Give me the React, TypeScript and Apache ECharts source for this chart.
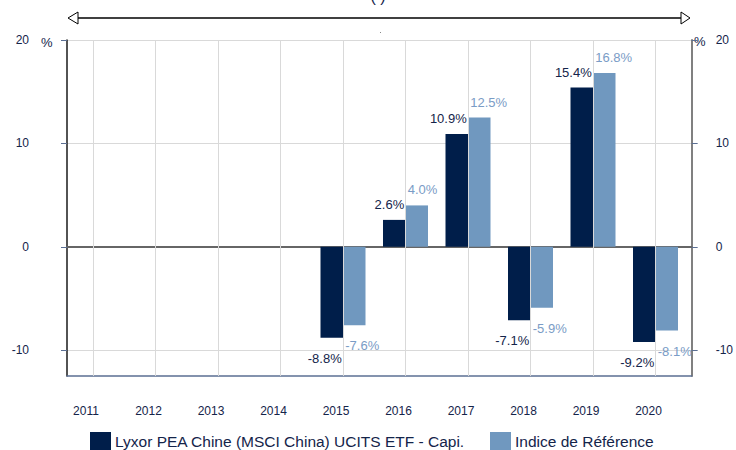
import React, { useEffect, useRef } from "react";
import * as echarts from "echarts";

const years = ["2011", "2012", "2013", "2014", "2015", "2016", "2017", "2018", "2019", "2020"];
const fundValues: (number | null)[] = [null, null, null, null, -8.8, 2.6, 10.9, -7.1, 15.4, -9.2];
const indexValues: (number | null)[] = [null, null, null, null, -7.6, 4.0, 12.5, -5.9, 16.8, -8.1];
const yTicks = [-10, 0, 10, 20];
const fundName = "Lyxor PEA Chine (MSCI China) UCITS ETF - Capi.";
const indexName = "Indice de Référence";

const DARK = "#001e4a";
const LIGHT = "#7098bf";
const NAVY = "#14244a";
const FONT = "'Liberation Sans', Arial, sans-serif";

function toItems(values: (number | null)[]) {
  return values.map((v) => {
    if (v === null) return "-";
    const pos = v >= 0;
    return {
      value: v,
      label: {
        position: pos ? "top" : "bottom",
        distance: pos ? 9 : 14,
      },
    };
  });
}

export default function App() {
  const ref = useRef<HTMLDivElement>(null);
  useEffect(() => {
    if (!ref.current) return;
    const chart = echarts.init(ref.current, null, { renderer: "svg" });
    const yMin = -12.5;
    const yMax = 20;
    chart.setOption({
      animation: false,
      textStyle: { fontFamily: FONT },
      grid: [
        { left: 61.75, right: 49.25, top: 40, bottom: 74 },
        { left: 67, right: 44, top: 40, bottom: 74 },
      ],
      legend: {
        data: [fundName, indexName],
        left: 90,
        top: 432,
        padding: 0,
        itemWidth: 21,
        itemHeight: 18,
        itemGap: 25,
        icon: "rect",
        textStyle: { fontSize: 15.5, color: NAVY, fontFamily: FONT, padding: [0, 0, 0, -1] },
      },
      xAxis: [
        {
          type: "category",
          gridIndex: 0,
          data: years,
          axisLine: { show: false },
          axisTick: { show: false },
          splitLine: { show: false },
          axisLabel: { fontSize: 12, color: NAVY, margin: 29, padding: [0, 14, 0, 0], fontFamily: FONT },
        },
        {
          type: "value",
          gridIndex: 1,
          min: 0,
          max: 1,
          position: "top",
          axisLine: { show: true, onZero: true, lineStyle: { color: "#666666", width: 2 } },
          axisTick: { show: false },
          axisLabel: { show: false },
          splitLine: { show: false },
        },
        {
          type: "value",
          gridIndex: 1,
          min: 0,
          max: 1,
          position: "bottom",
          axisLine: { show: true, onZero: false, lineStyle: { color: "#5b6f93", width: 1.5 } },
          axisTick: { show: false },
          axisLabel: { show: false },
          splitLine: { show: false },
        },
      ],
      yAxis: [
        { type: "value", gridIndex: 0, min: yMin, max: yMax, show: false },
        {
          type: "value",
          gridIndex: 1,
          position: "left",
          min: yMin,
          max: yMax,
          axisLine: { show: true, onZero: false, lineStyle: { color: "#1a1a1a", width: 1.5 } },
          axisTick: { show: true, customValues: yTicks, length: 6, lineStyle: { color: "#5b6f93" } },
          axisLabel: { customValues: yTicks, margin: 38, fontSize: 12, color: NAVY, fontFamily: FONT, padding: [5, 0, 0, 0] },
          splitLine: { show: true, lineStyle: { color: "#d9d9d9", width: 1 } },
        },
        {
          type: "value",
          gridIndex: 1,
          position: "right",
          min: yMin,
          max: yMax,
          axisLine: { show: true, onZero: false, lineStyle: { color: "#808080", width: 2 } },
          axisTick: { show: true, customValues: yTicks, length: 6, lineStyle: { color: "#5b6f93" } },
          axisLabel: { customValues: yTicks, margin: 24, fontSize: 12, color: NAVY, fontFamily: FONT, padding: [5, 0, 0, 0] },
          splitLine: { show: false },
        },
      ],
      series: [
        {
          type: "line",
          xAxisIndex: 0,
          yAxisIndex: 0,
          data: years.map(() => "-"),
          z: 1,
          silent: true,
          markLine: {
            silent: true,
            symbol: "none",
            label: { show: false },
            lineStyle: { color: "#d9d9d9", type: "solid", width: 1 },
            data: years.map((y) => ({ xAxis: y })),
          },
        },
        {
          name: fundName,
          type: "bar",
          xAxisIndex: 0,
          yAxisIndex: 0,
          z: 3,
          barWidth: 22.5,
          barGap: "0%",
          itemStyle: { color: DARK },
          label: {
            show: true,
            align: "right",
            offset: [10, 0],
            fontSize: 13,
            color: NAVY,
            fontFamily: FONT,
            formatter: (p: any) => `${Number(p.value).toFixed(1)}%`,
          },
          data: toItems(fundValues),
        },
        {
          name: indexName,
          type: "bar",
          xAxisIndex: 0,
          yAxisIndex: 0,
          z: 3,
          barWidth: 22.5,
          barGap: "0%",
          itemStyle: { color: LIGHT },
          label: {
            show: true,
            align: "left",
            offset: [-9, 0],
            fontSize: 13,
            color: "#7a9cc6",
            fontFamily: FONT,
            formatter: (p: any) => `${Number(p.value).toFixed(1)}%`,
          },
          data: toItems(indexValues),
        },
      ],
      graphic: [
        {
          type: "line",
          shape: { x1: 77, y1: 18, x2: 682, y2: 18 },
          style: { stroke: "#000", lineWidth: 1.5 },
        },
        {
          type: "polygon",
          shape: { points: [[68, 18], [78, 12], [78, 24]] },
          style: { fill: "#fff", stroke: "#000", lineWidth: 1 },
        },
        {
          type: "polygon",
          shape: { points: [[690, 18], [681, 12], [681, 24]] },
          style: { fill: "#fff", stroke: "#000", lineWidth: 1 },
        },
        {
          type: "text",
          x: 378,
          y: -12,
          style: { text: "( )", fontSize: 16, fill: NAVY, textAlign: "center", textVerticalAlign: "top", fontFamily: FONT },
        },
        {
          type: "rect",
          shape: { x: 380, y: 32, width: 1, height: 1 },
          style: { fill: "#888" },
        },
        {
          type: "text",
          x: 41,
          y: 36,
          style: { text: "%", fontSize: 13, fill: NAVY, fontFamily: FONT },
        },
        {
          type: "text",
          x: 694,
          y: 35,
          style: { text: "%", fontSize: 13, fill: NAVY, fontFamily: FONT },
        },
      ],
    });
    return () => chart.dispose();
  }, []);
  return <div ref={ref} style={{ width: 736, height: 450, position: "absolute", left: 0, top: 0 }} />;
}
